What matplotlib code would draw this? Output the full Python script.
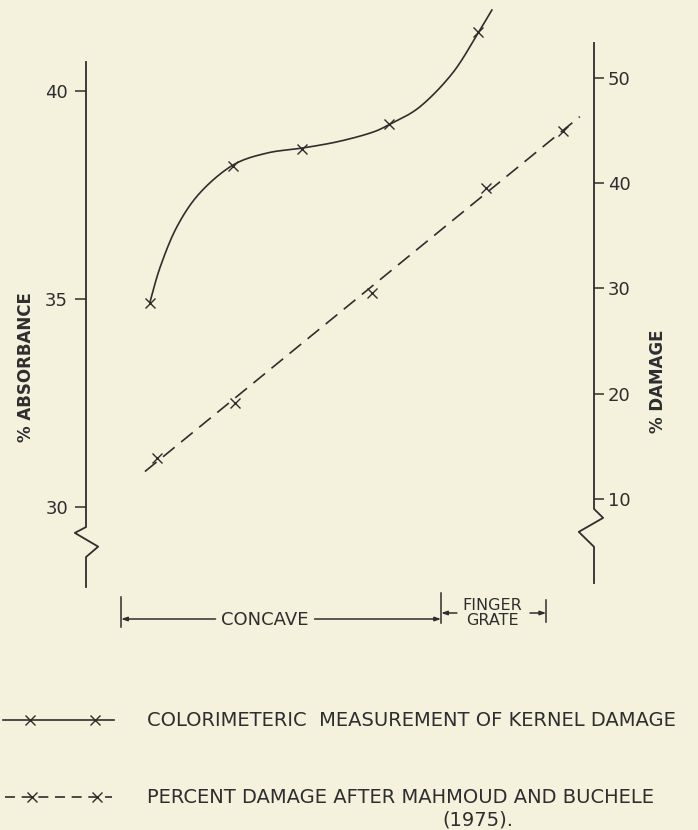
import numpy as np
import matplotlib
matplotlib.use('Agg')
import matplotlib.pyplot as plt
from matplotlib.lines import Line2D

# x has no printed scale: 0 = left axis, 100 = right axis
solid_x = [12.6, 28.9, 42.5, 59.6, 77.2]
solid_abs = [34.9, 38.2, 38.6, 39.2, 41.4]

# hand drawn curve
curve_x = [12.6, 14.6, 17.9, 22.4, 28.9, 35.6, 42.5, 49.4, 55.9, 59.6, 65.7, 72.2, 77.2, 79.9]
curve_abs = [34.92, 35.76, 36.73, 37.54, 38.21, 38.50, 38.62, 38.77, 38.98, 39.18, 39.61, 40.43, 41.39, 41.94]

dashed_x = [14.0, 29.3, 56.3, 78.7, 93.9]
dashed_dmg = [13.9, 19.1, 29.6, 39.5, 44.9]
trend_x = [11.6, 97.2]
trend_dmg = [12.6, 46.3]

abs_ticks = [30, 35, 40]
dmg_ticks = [10, 20, 30, 40, 50]

ink = '#2e2e2e'
paper = '#f4f1dc'


def catmull_rom(xs, ys, n=20):
    pts = np.column_stack([xs, ys])
    pts = np.vstack([pts[0], pts, pts[-1]])
    out = []
    t = np.linspace(0, 1, n, endpoint=False)[:, None]
    for i in range(1, len(pts) - 2):
        p0, p1, p2, p3 = pts[i - 1:i + 3]
        seg = 0.5 * (2 * p1 + (p2 - p0) * t + (2 * p0 - 5 * p1 + 4 * p2 - p3) * t ** 2
                     + (-p0 + 3 * p1 - 3 * p2 + p3) * t ** 3)
        out.append(seg)
    out.append(pts[-2][None])
    return np.vstack(out)


fig = plt.figure(figsize=(6.98, 8.30), dpi=100, facecolor=paper)
ax = fig.add_axes([86 / 698, 1 - 600 / 830, 508 / 698, 600 / 830])
ax.set_facecolor('none')
ax.set_xlim(0, 100)
ax.set_ylim(27.757, 42.18)
ax2 = ax.twinx()
ax2.set_ylim(0.40, 57.38)

for a in (ax, ax2):
    for s in a.spines.values():
        s.set_visible(False)
    a.set_xticks([])

ax.set_yticks(abs_ticks)
ax.tick_params(axis='y', direction='out', length=8, width=1.1, pad=5,
               labelsize=13, colors=ink)
ax2.set_yticks(dmg_ticks)
ax2.tick_params(axis='y', direction='out', length=7, width=1.1, pad=3,
                labelsize=13, colors=ink)

# axis lines with the break marks
ax.plot([0, 0, -2.2, 2.4, 0, 0], [40.69, 29.51, 29.37, 29.04, 28.79, 28.07],
        color=ink, lw=1.3, clip_on=False)
ax2.plot([100, 100, 101.8, 97.0, 100, 100], [53.3, 9.05, 8.2, 6.87, 5.45, 2.01],
         color=ink, lw=1.3, clip_on=False)

# colorimetric curve
c = catmull_rom(curve_x, curve_abs)
ax.plot(c[:, 0], c[:, 1], color=ink, lw=1.2, clip_on=False)
ax.plot(solid_x, solid_abs, ls='none', marker='x', ms=7, mew=1.0, color=ink)

# percent damage
ax2.plot(trend_x, trend_dmg, color=ink, lw=1.2, dashes=(9, 5))
ax2.plot(dashed_x, dashed_dmg, ls='none', marker='x', ms=7, mew=1.0, color=ink)

fig.text(26 / 698, 1 - 367 / 830, '% ABSORBANCE', rotation=90, ha='center', va='center',
         fontsize=12, fontweight='bold', color=ink)
fig.text(658 / 698, 1 - 381 / 830, '% DAMAGE', rotation=90, ha='center', va='center',
         fontsize=12, fontweight='bold', color=ink)


# concave / finger grate bracket
def fy(py):
    return 1 - py / 830


btr = matplotlib.transforms.blended_transform_factory(ax.transData, fig.transFigure)
for bx, y0, y1 in [(6.9, 597, 627), (69.9, 593, 623), (90.6, 600, 622)]:
    ax.plot([bx, bx], [fy(y0), fy(y1)], color=ink, lw=1.1, transform=btr, clip_on=False)
arr = dict(arrowstyle='-|>,head_length=0.35,head_width=0.12', color=ink, lw=1.1, shrinkA=0, shrinkB=0)
ax.annotate('', xy=(6.9, fy(619)), xytext=(25.5, fy(619)), xycoords=btr, textcoords=btr, arrowprops=arr)
ax.annotate('', xy=(69.9, fy(619)), xytext=(45.0, fy(619)), xycoords=btr, textcoords=btr, arrowprops=arr)
ax.text(35.2, fy(620), 'CONCAVE', transform=btr, ha='center', va='center', fontsize=13, color=ink)
ax.annotate('', xy=(69.9, fy(613)), xytext=(73.0, fy(613)), xycoords=btr, textcoords=btr, arrowprops=arr)
ax.annotate('', xy=(90.6, fy(613)), xytext=(87.4, fy(613)), xycoords=btr, textcoords=btr, arrowprops=arr)
ax.text(80.0, fy(613), 'FINGER\nGRATE', transform=btr, ha='center', va='center', fontsize=11.5,
        linespacing=0.95, color=ink)


# legend
def px(x):
    return x / 698


fig.add_artist(Line2D([px(3), px(30), px(95), px(114)], [fy(720)] * 4, color=ink, lw=1.2,
                      marker='x', ms=7, mew=1.0, markevery=[1, 2]))
fig.add_artist(Line2D([px(5), px(32), px(97), px(112)], [fy(797)] * 4, color=ink, lw=1.2,
                      dashes=(6, 4), marker='x', ms=7, mew=1.0, markevery=[1, 2]))
fig.text(px(147), fy(720), 'COLORIMETERIC  MEASUREMENT OF KERNEL DAMAGE', ha='left', va='center',
         fontsize=14, color=ink)
fig.text(px(147), fy(797), 'PERCENT DAMAGE AFTER MAHMOUD AND BUCHELE', ha='left', va='center',
         fontsize=14, color=ink)
fig.text(px(478), fy(820), '(1975).', ha='center', va='center', fontsize=14, color=ink)

fig.savefig('out.png', dpi=100, facecolor=paper)
